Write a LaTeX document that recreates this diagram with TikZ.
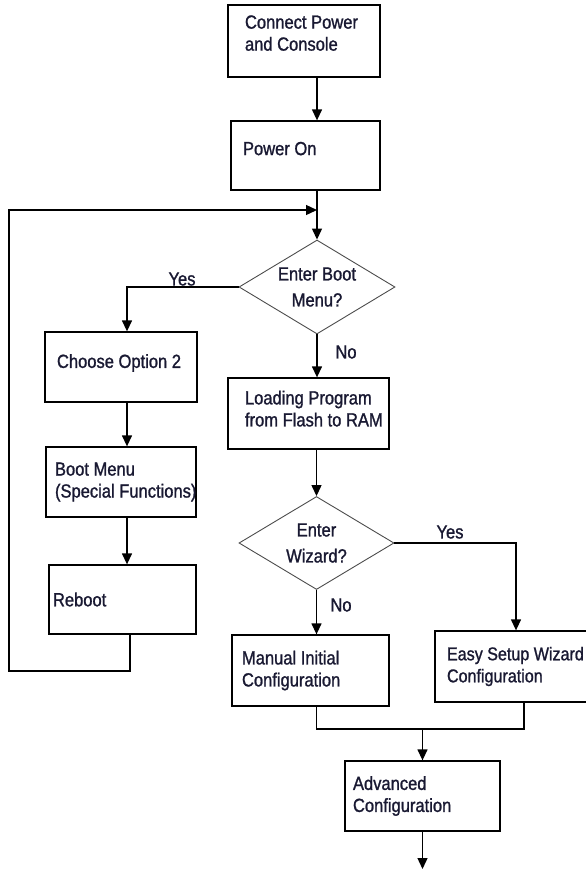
\documentclass[tikz,border=0pt]{standalone}
\usepackage{fontspec}
\setmainfont[FakeStretch=0.87,FakeBold=1.2]{Liberation Sans}
\usetikzlibrary{arrows.meta,shapes.geometric}
\definecolor{txt}{RGB}{25,25,50}
\newcommand{\upby}[1]{\\[-#1]\mbox{}}
\begin{document}
\begin{tikzpicture}[x=1pt,y=-1pt,
  font=\fontsize{19}{22}\selectfont, text=txt,
  box/.style={draw, line width=1.3pt, rectangle, align=flush left, inner ysep=0pt},
  dec/.style={draw=black!70, line width=0.9pt, diamond, aspect=1.66, inner sep=0pt, align=center, font=\fontsize{19}{26}\selectfont},
  conn/.style={line width=1.3pt},
  arr/.style={conn, -{Triangle[length=11pt,width=10pt]}},
  lbl/.style={inner sep=0pt}]
\useasboundingbox (0,0) rectangle (586,870);
\clip (0,0) rectangle (586,870);

\node[box, minimum height=72pt, inner xsep=17pt, text width=118pt] (b1) at (304,41) {\mbox{Connect Power}\\\mbox{and Console}\upby{6pt}};
\node[box, minimum height=69pt, inner xsep=12pt, text width=125pt] (b2) at (305.5,155.5) {\mbox{Power On}\upby{8pt}};
\node[dec, minimum width=156pt, minimum height=94pt] (d1) at (317,287) {\mbox{Enter Boot}\\\mbox{Menu?}};
\node[box, minimum height=70pt, inner xsep=12pt, text width=128pt] (ch) at (121,367) {\mbox{Choose Option 2}\upby{10pt}};
\node[box, minimum height=70pt, inner xsep=9pt, text width=132pt] (bm) at (121,482) {\mbox{Boot Menu}\\\mbox{(Special Functions)}};
\node[box, minimum height=69pt, inner xsep=4pt, text width=139pt] (rb) at (122.5,599.5) {\mbox{Reboot}};
\node[box, minimum height=71pt, inner xsep=17pt, text width=127pt] (ld) at (308.5,413.5) {\mbox{Loading Program}\\\mbox{from Flash to RAM}\upby{12pt}};
\node[dec, minimum width=155pt, minimum height=93pt] (d2) at (316.5,543) {\mbox{Enter}\\\mbox{Wizard?}};
\node[box, minimum height=71pt, inner xsep=10pt, text width=137pt] (mn) at (310.5,670.5) {\mbox{Manual Initial}\\\mbox{Configuration}};
\node[box, minimum height=71pt, inner xsep=12pt, text width=146pt] (ez) at (520,666.5) {\fontsize{18.5}{22}\selectfont\mbox{Easy Setup Wizard}\\\mbox{Configuration}};
\node[box, minimum height=70pt, inner xsep=8pt, text width=139pt] (ad) at (422.5,796) {\mbox{Advanced}\\\mbox{Configuration}};

\node[lbl] (y1) at (182,279) {Yes};
\node[lbl] (n1) at (346,352) {No};
\node[lbl] (y2) at (450,532) {Yes};
\node[lbl] (n2) at (341,605) {No};

\coordinate (lcol) at (127,0);
\coordinate (rcol) at (516,0);
\coordinate (loopTL) at (9,210);
\coordinate (loopBR) at (130,671);
\coordinate (mergeR) at (524,729);
\coordinate (fin) at (422.5,869);

\draw[arr] (b1.south -| d1.north) -- (b2.north -| d1.north);
\draw[arr] (b2.south -| d1.north) -- (d1.north);
\draw[arr] (rb.south -| loopBR) -- (loopBR) -| (loopTL) -- (loopTL -| d1.north);
\draw[arr] (d1.west) -| (ch.north -| lcol);
\draw[arr] (ch.south -| lcol) -- (bm.north -| lcol);
\draw[arr] (bm.south -| lcol) -- (rb.north -| lcol);
\draw[arr] (d1.south) -- (ld.north -| d1.south);
\draw[arr] (ld.south -| d2.north) -- (d2.north);
\draw[arr] (d2.east) -| (ez.north -| rcol);
\draw[arr] (d2.south) -- (mn.north -| d2.south);
\draw[conn] (mn.south -| d2.south) |- (mergeR) -- (ez.south -| mergeR);
\draw[arr] (mergeR -| ad.north) -- (ad.north);
\draw[arr] (ad.south) -- (fin);
\end{tikzpicture}
\end{document}
